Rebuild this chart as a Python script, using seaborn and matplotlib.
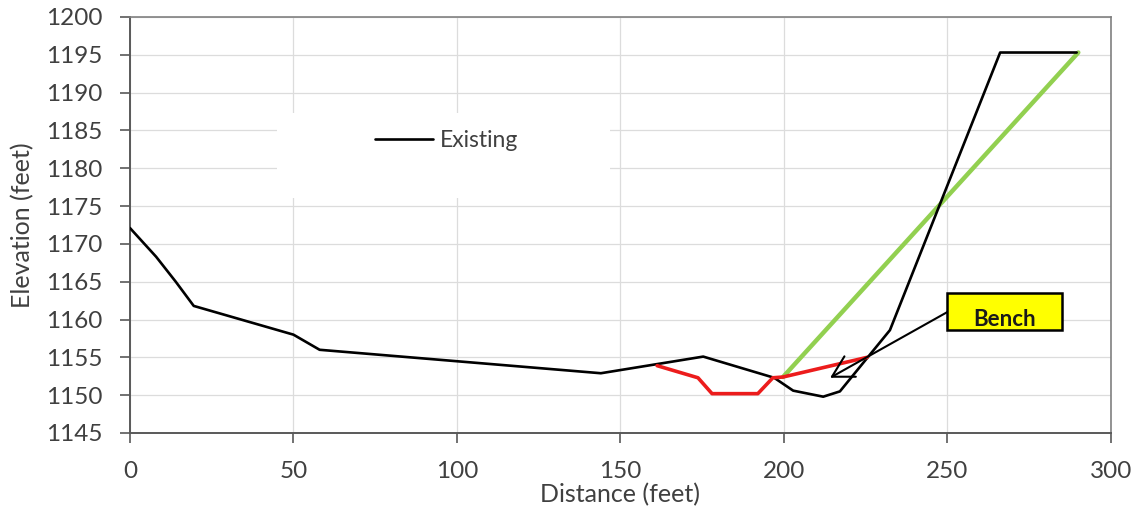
import matplotlib
matplotlib.use("Agg")
import matplotlib.pyplot as plt
from matplotlib.patches import Rectangle
import seaborn as sns
import pandas as pd

# ---- data ----
existing_x = [0, 8, 14, 19.5, 50, 58, 144, 175.3, 197, 202.8, 212, 217.1, 232.4, 266.1, 289.5]
existing_y = [1172.1, 1168.3, 1165.0, 1161.8, 1158.0, 1156.0, 1152.9, 1155.1, 1152.3,
              1150.6, 1149.8, 1150.5, 1158.6, 1195.3, 1195.3]

proposed_x = [161.2, 173.7, 178.0, 192.0, 196.6, 199.7, 225.4]
proposed_y = [1153.9, 1152.3, 1150.2, 1150.2, 1152.3, 1152.4, 1155.0]

slope_x = [199.7, 290.0]
slope_y = [1152.4, 1195.3]

x_ticks = [0, 50, 100, 150, 200, 250, 300]
y_ticks = [1145, 1150, 1155, 1160, 1165, 1170, 1175, 1180, 1185, 1190, 1195, 1200]

legend_label = "Existing"
bench_label = "Bench"
bench_tip = (214.1, 1152.3)
bench_tail = (250.0, 1161.0)

# ---- style ----
sns.set_theme(style="whitegrid")
plt.rcParams["font.family"] = ["Lato", "DejaVu Sans"]
FS = 17.5
TXT = "#404040"

fig = plt.figure(figsize=(11.36, 5.14), dpi=100)
ax = fig.add_axes([0.1144, 0.1576, 0.8636, 0.8094])

df_e = pd.DataFrame({"x": existing_x, "y": existing_y})
df_p = pd.DataFrame({"x": proposed_x, "y": proposed_y})
df_s = pd.DataFrame({"x": slope_x, "y": slope_y})

sns.lineplot(data=df_e, x="x", y="y", sort=False, estimator=None, color="black",
             linewidth=1.9, label=legend_label, ax=ax, zorder=3)
sns.lineplot(data=df_s, x="x", y="y", sort=False, estimator=None, color="#92d050",
             linewidth=3.2, legend=False, ax=ax, zorder=2)
sns.lineplot(data=df_p, x="x", y="y", sort=False, estimator=None, color="#ec1c1c",
             linewidth=2.6, legend=False, ax=ax, zorder=4)

ax.set_xlim(0, 300)
ax.set_ylim(1145, 1200)
ax.set_xticks(x_ticks)
ax.set_yticks(y_ticks)
ax.grid(True, color="#dcdcdc", linewidth=0.9)
ax.set_axisbelow(True)

for side in ["left", "bottom"]:
    ax.spines[side].set_color("#595959")
    ax.spines[side].set_linewidth(1.4)
for side in ["top", "right"]:
    ax.spines[side].set_color("#808080")
    ax.spines[side].set_linewidth(1.2)

ax.tick_params(axis="both", which="major", direction="out", length=7, width=1.2,
               color="#595959", labelsize=FS, labelcolor=TXT, pad=13,
               left=True, bottom=True)

ax.set_xlabel("Distance (feet)", fontsize=FS + 0.5, color=TXT, labelpad=1)
ax.set_ylabel("Elevation (feet)", fontsize=FS + 0.5, color=TXT, labelpad=8)

# white legend area
ax.add_patch(Rectangle((0.150, 0.565), 0.339, 0.204, transform=ax.transAxes,
                       facecolor="white", edgecolor="none", zorder=1))
leg = ax.legend(loc="center left", bbox_to_anchor=(0.2497, 0.702), frameon=False,
                fontsize=FS - 1, handlelength=2.55, handletextpad=0.3, borderpad=0,
                borderaxespad=0)
for t in leg.get_texts():
    t.set_color(TXT)
for h in leg.get_lines():
    h.set_linewidth(1.9)

# Bench callout
ax.annotate("", xy=bench_tip, xytext=bench_tail,
            arrowprops=dict(arrowstyle="->,head_length=0.75,head_width=0.42",
                            color="black", lw=1.5, shrinkA=0, shrinkB=0,
                            mutation_scale=20), zorder=5)
ax.add_patch(Rectangle((250.0, 1158.6), 35.0, 4.9, facecolor="#ffff00",
                       edgecolor="black", linewidth=1.8, zorder=6))
ax.text(267.6, 1159.95, bench_label, fontsize=FS - 1.5, fontweight="bold", color="#1a1a1a",
        ha="center", va="center", zorder=7)

fig.savefig("out.png", dpi=100)
